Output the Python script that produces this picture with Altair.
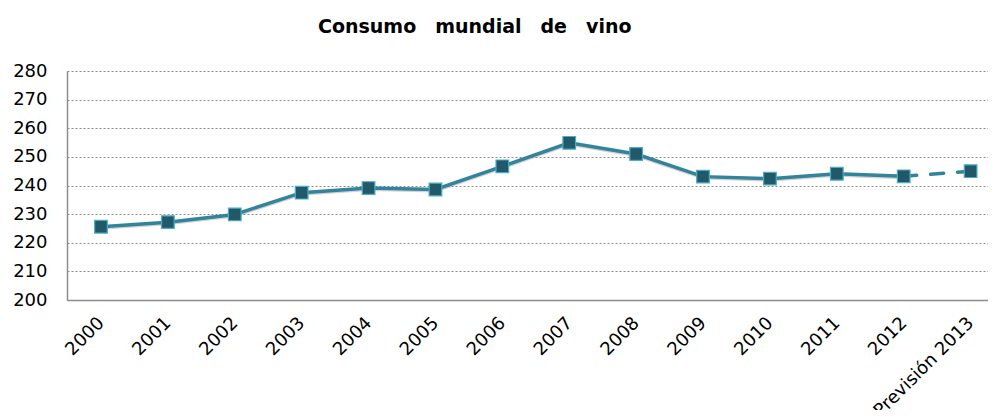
import altair as alt
import pandas as pd
import json

years = ["2000", "2001", "2002", "2003", "2004", "2005", "2006",
         "2007", "2008", "2009", "2010", "2011", "2012", "Previsión 2013"]
consumo = [225.6, 227.2, 229.9, 237.5, 239.1, 238.6, 246.7,
           254.9, 251.0, 243.1, 242.4, 244.1, 243.2, 245.0]

df = pd.DataFrame({"year": years, "value": consumo, "idx": list(range(len(years)))})
df_solid = df.iloc[:13]
df_dash = df.iloc[12:]

label_expr = json.dumps(years) + "[datum.value]"

x_enc = alt.X("idx:Q", title=None,
              scale=alt.Scale(domain=[-0.508, 13.26], nice=False, zero=False),
              axis=alt.Axis(values=list(range(len(years))), labelExpr=label_expr,
                            labelAngle=-45, labelAlign="right", labelBaseline="middle",
                            labelFont="DejaVu Sans", labelFontSize=18,
                            labelColor="#000000", labelPadding=20, labelOverlap=False,
                            labelBound=False, labelFlush=False,
                            ticks=False, domainColor="#8c8c8c", domainWidth=1.5,
                            grid=False))
y_enc = alt.Y("value:Q", title=None,
              scale=alt.Scale(domain=[200, 280], nice=False, zero=False),
              axis=alt.Axis(values=list(range(200, 281, 10)),
                            labelFont="DejaVu Sans", labelFontSize=18,
                            labelColor="#000000", labelPadding=20,
                            ticks=False, domainColor="#8c8c8c", domainWidth=1.5,
                            grid=True, gridColor="#8c8c8c", gridDash=[2, 2],
                            gridWidth=1))

shadow = alt.Chart(df_solid).mark_line(color="#8a7a80", strokeWidth=3, opacity=0.35,
                                       yOffset=1.5).encode(x=x_enc, y=y_enc)
solid = alt.Chart(df_solid).mark_line(color="#31849b", strokeWidth=3.5).encode(x=x_enc, y=y_enc)
dash = alt.Chart(df_dash).mark_line(color="#31849b", strokeWidth=3.5,
                                    strokeDash=[13, 14], strokeCap="round").encode(x=x_enc, y=y_enc)
points = alt.Chart(df).mark_point(shape="square", filled=True, size=160,
                                  fill="#215968", stroke="#4aacc6", strokeWidth=1.2,
                                  opacity=1).encode(x=x_enc, y=y_enc)

chart = alt.layer(shadow, solid, dash, points).properties(
    width=921, height=229,
    title=alt.TitleParams("Consumo\u2003mundial\u2003de\u2003vino", font="DejaVu Sans",
                          fontSize=19, fontWeight="bold", color="#000000",
                          anchor="start", frame="group", baseline="alphabetic",
                          dx=251, offset=10),
    autosize=alt.AutoSizeParams(type="none"),
    padding={"left": 59, "top": 63, "right": 0, "bottom": 110},
).configure_view(stroke=None)

chart.save("out.html", embed_options={"renderer": "svg", "actions": False})
